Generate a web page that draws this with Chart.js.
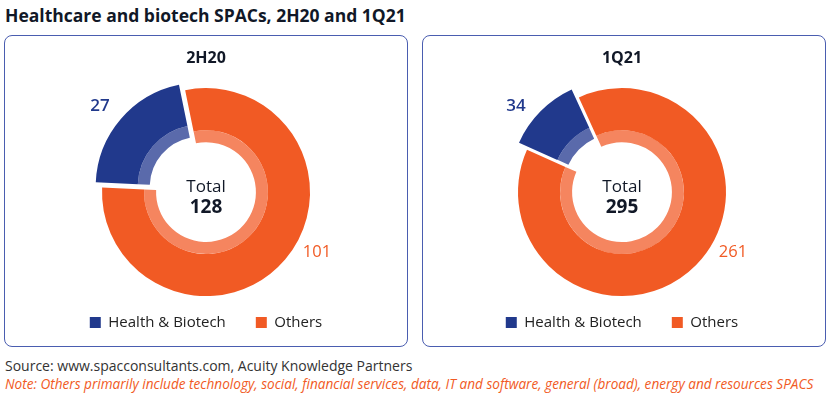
<!DOCTYPE html>
<html>
<head>
<meta charset="utf-8">
<script src="https://cdn.jsdelivr.net/npm/chart.js@4"></script>
<style>
  body { margin: 0; width: 830px; height: 398px; background: #fff; font-family: "Open Sans", sans-serif; position: relative; overflow: hidden; }
  #title { position: absolute; left: 5px; top: 3px; font-weight: 700; font-size: 17.5px; color: #111827; white-space: nowrap; }
  .panel { position: absolute; top: 35px; width: 402px; height: 310px; border: 1px solid #4a5db0; border-radius: 8px; }
  .panel canvas { position: absolute; left: 0; top: 0; }
  #source { position: absolute; left: 5px; top: 356px; font-size: 14px; color: #333; white-space: nowrap; }
  #note { position: absolute; left: 5px; top: 374px; font-size: 13.6px; font-style: italic; color: #f15a24; white-space: nowrap; }
</style>
</head>
<body>
<div id="title">Healthcare and biotech SPACs, 2H20 and 1Q21</div>
<div class="panel" style="left:4px"><canvas id="chart-2h20" width="402" height="310"></canvas></div>
<div class="panel" style="left:422px"><canvas id="chart-1q21" width="402" height="310"></canvas></div>
<div id="source">Source: www.spacconsultants.com, Acuity Knowledge Partners</div>
<div id="note">Note: Others primarily include technology, social, financial services, data, IT and software, general (broad), energy and resources SPACS</div>

<script>
// data
var categories = ["Health & Biotech", "Others"];
var counts2H20 = [27, 101];
var counts1Q21 = [34, 261];

var solidColors = ["#21398c", "#f15a24"];
var lightColors = ["#5a6aab", "#f5855f"];

// draws "Total" in the hole and the two value labels
var centerTextPlugin = {
  id: "centerText",
  afterDraw: function (chart) {
    var arc = chart.getDatasetMeta(0).data[1];
    var cx = arc.x, cy = arc.y;
    var values = chart.data.datasets[0].data;
    var total = values.reduce(function (a, b) { return a + b; }, 0);
    var c = chart.ctx;
    c.save();
    c.textAlign = "center";
    c.textBaseline = "middle";
    c.fillStyle = "#111827";
    c.font = "17px 'Open Sans'";
    c.fillText("Total", cx, cy - 5);
    c.font = "bold 19px 'Open Sans'";
    c.fillText(String(total), cx, cy + 15);

    var off = chart.options.plugins.centerText.labelOffsets;
    c.font = "600 17px 'Open Sans'";
    c.fillStyle = solidColors[0];
    c.fillText(String(values[0]), cx + off[0][0], cy + off[0][1]);
    c.font = "16.5px 'Open Sans'";
    c.fillStyle = solidColors[1];
    c.fillText(String(values[1]), cx + off[1][0], cy + off[1][1]);
    c.restore();
  }
};

function makeDonut(id, period, values, rotation, padRight) {
  var ctx = document.getElementById(id).getContext("2d");
  return new Chart(ctx, {
    type: "doughnut",
    data: {
      labels: categories,
      datasets: [
        {
          data: values,
          backgroundColor: solidColors,
          borderWidth: 0,
          offset: [32, 0],
          weight: 42
        },
        {
          data: values,
          backgroundColor: lightColors,
          borderWidth: 0,
          offset: [32, 0],
          weight: 12
        }
      ]
    },
    options: {
      responsive: false,
      animation: false,
      rotation: rotation,
      radius: 104,
      cutout: "48%",
      layout: { padding: { top: 0, bottom: 6, left: 0, right: padRight } },
      plugins: {
        title: {
          display: true,
          text: period,
          color: "#111827",
          font: { family: "'Open Sans'", size: 16, weight: "bold" },
          padding: { top: 13, bottom: 31 }
        },
        legend: {
          position: "bottom",
          labels: {
            boxWidth: 11,
            boxHeight: 11,
            padding: 30,
            color: "#222",
            font: { family: "'Open Sans'", size: 15 }
          }
        },
        tooltip: { enabled: false },
        centerText: { labelOffsets: [[-106, -86], [111, 60]] }
      }
    },
    plugins: [centerTextPlugin]
  });
}

makeDonut("chart-2h20", "2H20", counts2H20, -87.5, 0);
makeDonut("chart-1q21", "1Q21", counts1Q21, -66, 4);
</script>
</body>
</html>
